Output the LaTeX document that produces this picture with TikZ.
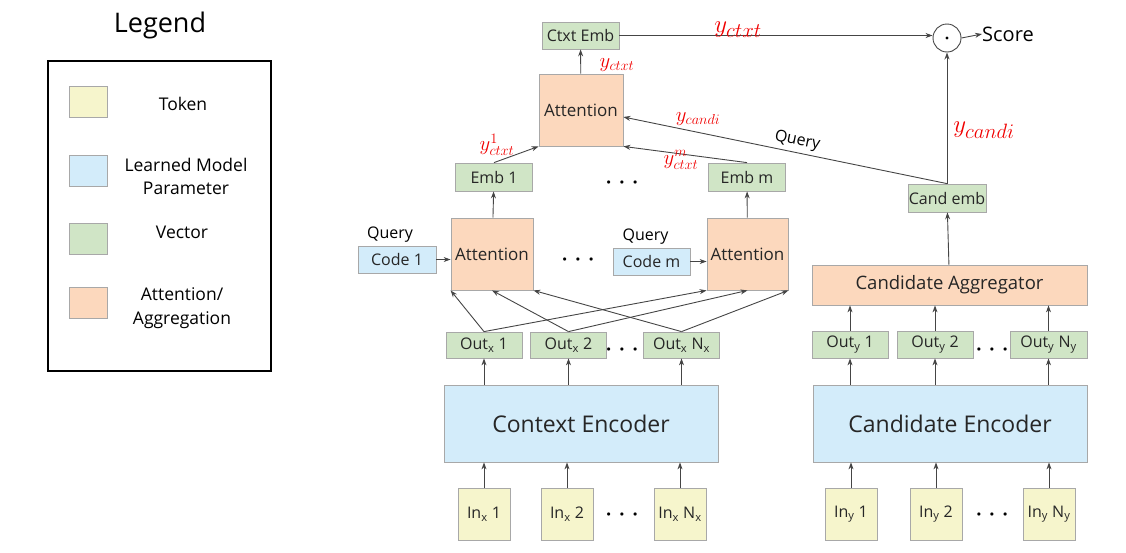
\documentclass[tikz,border=0pt]{standalone}
\usepackage{fontspec}
\setmainfont{Open Sans}
\usepackage{tikz}
\usetikzlibrary{arrows.meta,positioning,calc}

\definecolor{tokfill}{HTML}{F6F5CC}
\definecolor{parfill}{HTML}{D3ECFA}
\definecolor{vecfill}{HTML}{D0E5C6}
\definecolor{attfill}{HTML}{FCD8BD}
\definecolor{boxline}{HTML}{A8A8A8}
\definecolor{arrline}{HTML}{454545}
\definecolor{pen}{HTML}{F00000}

\begin{document}
\begin{tikzpicture}[
        x=1pt, y=-1pt,
        font=\fontsize{16}{18}\selectfont,
        base/.style={draw=boxline, line width=0.8pt, inner sep=0pt, text=black!85},
        tokbox/.style={base, fill=tokfill, minimum width=52, minimum height=52},
        parbox/.style={base, fill=parfill},
        vecbox/.style={base, fill=vecfill, minimum width=77, minimum height=27},
        attbox/.style={base, fill=attfill, font=\fontsize{17}{19}\selectfont},
        encbox/.style={parbox, minimum width=274, minimum height=77, font=\fontsize{23}{25}\selectfont},
        swatch/.style={base, minimum width=38, minimum height=31},
        arr/.style={-{Stealth[length=7pt,width=5pt]}, draw=arrline, line width=0.9pt},
        ell/.style={font=\fontsize{8}{8}\selectfont},
        note/.style={text=pen, font=\fontsize{21}{23}\selectfont},
        bignote/.style={text=pen, font=\fontsize{29}{31}\selectfont}
    ]
    \useasboundingbox (0,0) rectangle (1126,552);

    % legend
    \node (legtitle) at (160,25) [font=\fontsize{27}{29}\selectfont] {Legend};
    \node (legbox) [draw, line width=1.2pt, minimum width=223, minimum height=310, inner sep=0pt] at (159.5,216) {};
    \node (swtok) [swatch, fill=tokfill] at (88,101.5) {};
    \node (swpar) [swatch, fill=parfill] at (88,171) {};
    \node (swvec) [swatch, fill=vecfill] at (88,239) {};
    \node (swatt) [swatch, fill=attfill] at (88,302.5) {};
    \node (lbtok) at (183,104) [font=\fontsize{17.5}{19}\selectfont] {Token};
    \node (lbpar) at (186,176) [align=center, font=\fontsize{17.5}{23}\selectfont] {Learned Model\\Parameter};
    \node (lbvec) at (182,232) [font=\fontsize{17.5}{19}\selectfont] {Vector};
    \node (lbatt) at (182,308) [align=center, font=\fontsize{17.5}{24}\selectfont] {Attention/\\Aggregation};

    % context side
    \node (inx1) [tokbox] at (484,514) {In\textsubscript{x} 1};
    \node (inx2) [tokbox] at (567,514) {In\textsubscript{x} 2};
    \node (inxn) [tokbox] at (680,514) {In\textsubscript{x} N\textsubscript{x}};
    \node (dotsinx) [ell] at (622,515) {$\bullet\hspace{7pt}\bullet\hspace{7pt}\bullet$};
    \node (ctxenc) [encbox] at (581,423.5) {Context Encoder};

    \node (outx1) [vecbox, minimum width=76, minimum height=26] at (484,345) {Out\textsubscript{x} 1};
    \node (outx2) [vecbox, minimum width=76, minimum height=26] at (568.5,345) {Out\textsubscript{x} 2};
    \node (outxn) [vecbox, minimum width=76, minimum height=26] at (681.5,345) {Out\textsubscript{x} N\textsubscript{x}};
    \node (dotsoutx) [ell] at (622,350) {$\bullet\hspace{7pt}\bullet\hspace{7pt}\bullet$};

    \node (attl) [attbox, minimum width=82, minimum height=72] at (492,254) {Attention};
    \node (attr) [attbox, minimum width=81, minimum height=72] at (747.5,254) {Attention};
    \node (code1) [parbox, minimum width=78, minimum height=27] at (397,259.5) {Code 1};
    \node (codem) [parbox, minimum width=77, minimum height=27] at (651.5,261.5) {Code m};
    \node (qcode1) [above=0pt of code1, xshift=-7pt] {Query};
    \node (qcodem) [above=0pt of codem, xshift=-6pt] {Query};
    \node (dotsatt) [ell] at (578,260) {$\bullet\hspace{7pt}\bullet\hspace{7pt}\bullet$};

    \node (emb1) [vecbox, minimum height=28] at (494,177) {Emb 1};
    \node (embm) [vecbox, minimum height=28] at (747,177) {Emb m};
    \node (dotsemb) [ell] at (622,183) {$\bullet\hspace{7pt}\bullet\hspace{7pt}\bullet$};

    \node (att) [attbox, minimum width=84, minimum height=72] at (581,110) {Attention};
    \node (ctxemb) [vecbox] at (580.5,35.5) {Ctxt Emb};

    % candidate side
    \node (iny1) [tokbox] at (851,514) {In\textsubscript{y} 1};
    \node (iny2) [tokbox] at (936,514) {In\textsubscript{y} 2};
    \node (inyn) [tokbox] at (1049,514) {In\textsubscript{y} N\textsubscript{y}};
    \node (dotsiny) [ell] at (992,515) {$\bullet\hspace{7pt}\bullet\hspace{7pt}\bullet$};
    \node (candenc) [encbox] at (950,423.5) {Candidate Encoder};

    \node (outy1) [vecbox, minimum width=76] at (850,344.5) {Out\textsubscript{y} 1};
    \node (outy2) [vecbox, minimum width=76] at (935,344.5) {Out\textsubscript{y} 2};
    \node (outyn) [vecbox, minimum width=77] at (1048.5,344.5) {Out\textsubscript{y} N\textsubscript{y}};
    \node (dotsouty) [ell] at (992,350) {$\bullet\hspace{7pt}\bullet\hspace{7pt}\bullet$};

    \node (candagg) [attbox, minimum width=275, minimum height=40, font=\fontsize{18.5}{20}\selectfont] at (949.5,285) {Candidate Aggregator};
    \node (candemb) [vecbox, minimum width=78, minimum height=28] at (947,198) {Cand emb};

    \node (prod) [circle, draw=arrline, line width=0.9pt, minimum size=28, inner sep=0pt] at (947,38) {};
    \fill[black] (prod) circle (1.7);
    \node (score) [anchor=west, inner sep=0pt, font=\fontsize{20}{22}\selectfont] at (982,34) {Score};

    % connectors
    \foreach \n in {1,2,n} {
        \draw[arr] (inx\n) -- (inx\n |- ctxenc.south);
        \draw[arr] (ctxenc.north -| outx\n) -- (outx\n);
        \draw[arr] (iny\n) -- (iny\n |- candenc.south);
        \draw[arr] (candenc.north -| outy\n) -- (outy\n);
        \draw[arr] (outy\n) -- (outy\n |- candagg.south);
    }
    \draw[arr] (outx1.north) -- (attl.south west);
    \draw[arr] (outx1.north) -- (attr.south west);
    \draw[arr] (outx2.north) -- (attl.south);
    \draw[arr] (outx2.north) -- (attr.south);
    \draw[arr] (outxn.north) -- (attl.south east);
    \draw[arr] (outxn.north) -- (attr.south east);
    \draw[arr] (code1) -- (code1 -| attl.west);
    \draw[arr] (codem) -- (codem -| attr.west);
    \draw[arr] (attl) -- (emb1);
    \draw[arr] (attr) -- (embm);
    \draw[arr] (emb1.north) -- (att.south west);
    \draw[arr] (embm.north) -- (att.south east);
    \draw[arr] (candemb.north) -- node[pos=0.47, above=0pt, sloped] {Query} ([yshift=-7pt]att.east);
    \draw[arr] (att) -- (ctxemb);
    \draw[arr] (candagg) -- (candemb);
    \draw[arr] (candemb) -- (prod);
    \draw[arr] (ctxemb.east) -- (ctxemb.east -| prod.west);
    \draw[arr] (prod.east) -- (score.west);

    % handwritten notes
    \node (ybig) [bignote] at (738,30) {$y_{ctxt}$};
    \node (yatt) [note] at (617,65) {$y_{ctxt}$};
    \node (ycq) [note] at (698,119) {$y_{candi}$};
    \node (y1) [note] at (497,145) {$y^{1}_{ctxt}$};
    \node (ym) [note] at (681,160) {$y^{m}_{ctxt}$};
    \node (ycbig) [bignote] at (984,130) {$y_{candi}$};
\end{tikzpicture}
\end{document}
